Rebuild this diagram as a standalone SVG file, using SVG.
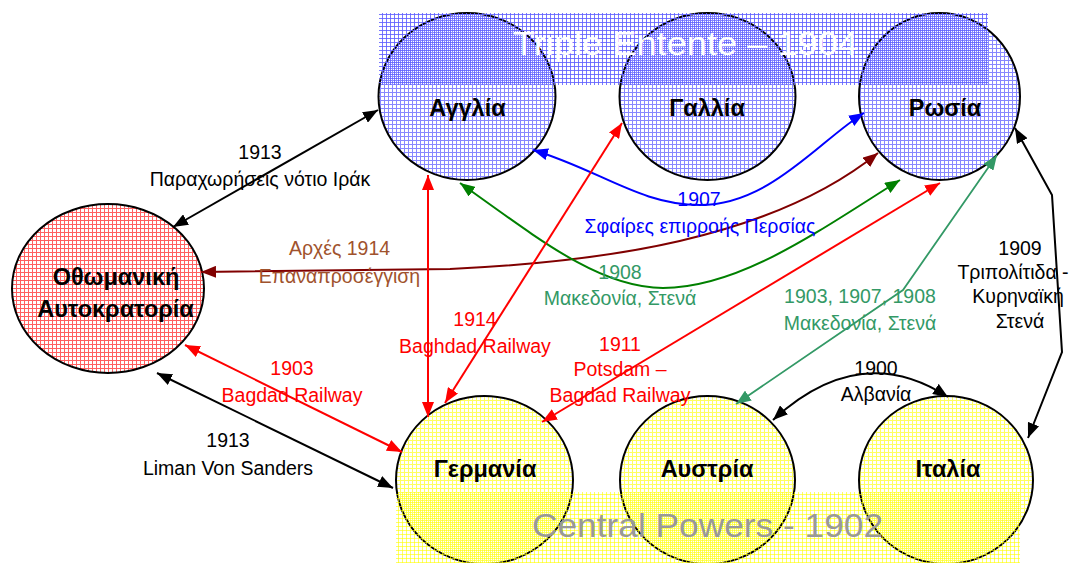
<svg xmlns="http://www.w3.org/2000/svg" width="1069" height="563" viewBox="0 0 1069 563">
<style>
  .node { stroke: #000; stroke-width: 2; }
  .nlabel { font-family: "Liberation Sans", Arial, sans-serif; font-weight: bold; font-size: 23.5px; text-anchor: middle; fill: #000; }
  .elabel { font-family: "Liberation Sans", Arial, sans-serif; font-size: 19.5px; text-anchor: middle; }
  .conn { fill: none; stroke-width: 2; }
  .k { stroke: #000; } .r { stroke: #ff0000; } .b { stroke: #0000ff; }
  .g { stroke: #008000; } .br { stroke: #800000; } .sg { stroke: #339966; stroke-width: 1.8; }
  .tk { fill: #000; } .tr { fill: #ff0000; } .tb { fill: #0000ff; } .tsg { fill: #339966; } .tbr { fill: #a0522d; }
  .title { font-family: "Liberation Sans", Arial, sans-serif; font-size: 33px; }
</style>
<defs>
  <pattern id="pBlue" width="4" height="4" patternUnits="userSpaceOnUse">
    <rect width="4" height="4" fill="#fff"/>
    <path d="M0,0.5H4M0.5,0V4" stroke="#8888ff" stroke-width="1"/>
  </pattern>
  <pattern id="pRed" width="4" height="4" patternUnits="userSpaceOnUse">
    <rect width="4" height="4" fill="#fff"/>
    <path d="M0,0.5H4M0.5,0V4" stroke="#ff6060" stroke-width="1"/>
  </pattern>
  <pattern id="pYel" width="4" height="4" patternUnits="userSpaceOnUse">
    <rect width="4" height="4" fill="#fff"/>
    <path d="M0,0.5H4M0.5,0V4" stroke="#ffff60" stroke-width="1"/>
  </pattern>
  <pattern id="pBandBlue" width="4" height="4" patternUnits="userSpaceOnUse">
    <path d="M0,2.5H4M2.5,0V4" stroke="#6060ff" stroke-width="1" stroke-opacity="0.85"/>
  </pattern>
  <pattern id="pBandYel" width="4" height="4" patternUnits="userSpaceOnUse">
    <path d="M0,2.5H4M2.5,0V4" stroke="#ffff00" stroke-width="1" stroke-opacity="0.6"/>
  </pattern>
  <marker id="mk" viewBox="0 0 15 12" refX="15" refY="6" markerWidth="15" markerHeight="12" markerUnits="userSpaceOnUse" orient="auto-start-reverse"><path d="M0,0L15,6L0,12z" fill="#000"/></marker>
  <marker id="mr" viewBox="0 0 15 12" refX="15" refY="6" markerWidth="15" markerHeight="12" markerUnits="userSpaceOnUse" orient="auto-start-reverse"><path d="M0,0L15,6L0,12z" fill="#ff0000"/></marker>
  <marker id="mb" viewBox="0 0 15 12" refX="15" refY="6" markerWidth="15" markerHeight="12" markerUnits="userSpaceOnUse" orient="auto-start-reverse"><path d="M0,0L15,6L0,12z" fill="#0000ff"/></marker>
  <marker id="mg" viewBox="0 0 15 12" refX="15" refY="6" markerWidth="15" markerHeight="12" markerUnits="userSpaceOnUse" orient="auto-start-reverse"><path d="M0,0L15,6L0,12z" fill="#008000"/></marker>
  <marker id="mbr" viewBox="0 0 15 12" refX="15" refY="6" markerWidth="15" markerHeight="12" markerUnits="userSpaceOnUse" orient="auto-start-reverse"><path d="M0,0L15,6L0,12z" fill="#800000"/></marker>
  <marker id="msg" viewBox="0 0 15 12" refX="15" refY="6" markerWidth="15" markerHeight="12" markerUnits="userSpaceOnUse" orient="auto-start-reverse"><path d="M0,0L15,6L0,12z" fill="#339966"/></marker>
</defs>
<rect width="1069" height="563" fill="#fff"/>

<g id="nodes">
  <g id="node-anglia">
    <ellipse class="node" cx="467" cy="96.5" rx="88.5" ry="83.5" fill="url(#pBlue)"/>
    <text class="nlabel" x="467.5" y="116">Αγγλία</text>
  </g>
  <g id="node-gallia">
    <ellipse class="node" cx="707.5" cy="96.5" rx="88" ry="83.5" fill="url(#pBlue)"/>
    <text class="nlabel" x="707" y="116">Γαλλία</text>
  </g>
  <g id="node-rosia">
    <ellipse class="node" cx="939.5" cy="96.5" rx="80.5" ry="83.5" fill="url(#pBlue)"/>
    <text class="nlabel" x="945" y="116">Ρωσία</text>
  </g>
  <g id="node-othomaniki">
    <ellipse class="node" cx="108" cy="288.5" rx="96" ry="84.5" fill="url(#pRed)"/>
    <text class="nlabel" x="116" y="285">Οθωμανική</text>
    <text class="nlabel" x="115.5" y="317">Αυτοκρατορία</text>
  </g>
  <g id="node-germania">
    <ellipse class="node" cx="484.5" cy="480" rx="88.5" ry="84" fill="url(#pYel)"/>
    <text class="nlabel" x="485" y="477">Γερμανία</text>
  </g>
  <g id="node-austria">
    <ellipse class="node" cx="707.5" cy="480" rx="87.5" ry="84" fill="url(#pYel)"/>
    <text class="nlabel" x="707" y="477">Αυστρία</text>
  </g>
  <g id="node-italia">
    <ellipse class="node" cx="946" cy="480" rx="87" ry="84" fill="url(#pYel)"/>
    <text class="nlabel" x="948" y="477">Ιταλία</text>
  </g>
</g>

<g id="band-entente">
  <rect x="379" y="13" width="609" height="72" fill="url(#pBandBlue)"/>
  <text class="title" x="513" y="55" fill="#ffffff" textLength="345" lengthAdjust="spacingAndGlyphs">Triple Entente – 1904</text>
</g>
<g id="band-central">
  <rect x="396" y="492" width="624" height="71" fill="url(#pBandYel)"/>
  <text class="title" x="532" y="537" fill="#999999" font-size="37" textLength="351" lengthAdjust="spacingAndGlyphs">Central Powers - 1902</text>
</g>

<g id="connectors">
  <path class="conn k" d="M378,110 L173,227" marker-start="url(#mk)" marker-end="url(#mk)"/>
  <path class="conn br" d="M201,272 L450,269 C600,262 770,240 878,153" marker-start="url(#mbr)" marker-end="url(#mbr)"/>
  <path class="conn b" d="M533,150 C600,170 640,205 700,205 C770,205 820,140 864,113" marker-start="url(#mb)" marker-end="url(#mb)"/>
  <path class="conn g" d="M460,183 C540,240 600,288 663,288 C740,288 820,230 900,180" marker-start="url(#mg)" marker-end="url(#mg)"/>
  <path class="conn r" d="M622,123 L445,403" marker-start="url(#mr)" marker-end="url(#mr)"/>
  <path class="conn r" d="M428,175 L428,417" marker-start="url(#mr)" marker-end="url(#mr)"/>
  <path class="conn r" d="M542,422 L940,183" marker-start="url(#mr)" marker-end="url(#mr)"/>
  <path class="conn sg" d="M736,404 L903,290 L997,155" marker-start="url(#msg)" marker-end="url(#msg)"/>
  <path class="conn k" d="M773,420 Q860,340 948,397" marker-start="url(#mk)" marker-end="url(#mk)"/>
  <path class="conn k" d="M1015,128 L1052,195 L1062,352 L1028,438" marker-start="url(#mk)" marker-end="url(#mk)"/>
  <path class="conn r" d="M185,345 L402,452" marker-start="url(#mr)" marker-end="url(#mr)"/>
  <path class="conn k" d="M157,373 L393,488" marker-start="url(#mk)" marker-end="url(#mk)"/>
</g>

<g id="edge-labels" class="elabel">
  <text class="elabel tk" x="260" y="159">1913</text>
  <text class="elabel tk" x="260" y="186">Παραχωρήσεις νότιο Ιράκ</text>
  <text class="elabel tbr" x="339.5" y="255">Αρχές 1914</text>
  <text class="elabel tbr" x="339.5" y="283">Επαναπροσέγγιση</text>
  <text class="elabel tb" x="699" y="206">1907</text>
  <text class="elabel tb" x="700" y="233">Σφαίρες επιρροής Περσίας</text>
  <text class="elabel tsg" x="620" y="279">1908</text>
  <text class="elabel tsg" x="620" y="305">Μακεδονία, Στενά</text>
  <text class="elabel tr" x="475" y="326">1914</text>
  <text class="elabel tr" x="475" y="353">Baghdad Railway</text>
  <text class="elabel tr" x="620" y="351">1911</text>
  <text class="elabel tr" x="620" y="376">Potsdam –</text>
  <text class="elabel tr" x="620" y="402">Bagdad Railway</text>
  <text class="elabel tsg" x="860" y="303">1903, 1907, 1908</text>
  <text class="elabel tsg" x="860" y="330">Μακεδονία, Στενά</text>
  <text class="elabel tk" x="876" y="375">1900</text>
  <text class="elabel tk" x="876" y="401">Αλβανία</text>
  <text class="elabel tk" x="1020" y="255">1909</text>
  <text class="elabel tk" x="1013" y="279">Τριπολίτιδα -</text>
  <text class="elabel tk" x="1018" y="303">Κυρηναϊκή</text>
  <text class="elabel tk" x="1020" y="328">Στενά</text>
  <text class="elabel tr" x="292" y="375">1903</text>
  <text class="elabel tr" x="292" y="402">Bagdad Railway</text>
  <text class="elabel tk" x="228" y="447">1913</text>
  <text class="elabel tk" x="228" y="475">Liman Von Sanders</text>
</g>
</svg>
